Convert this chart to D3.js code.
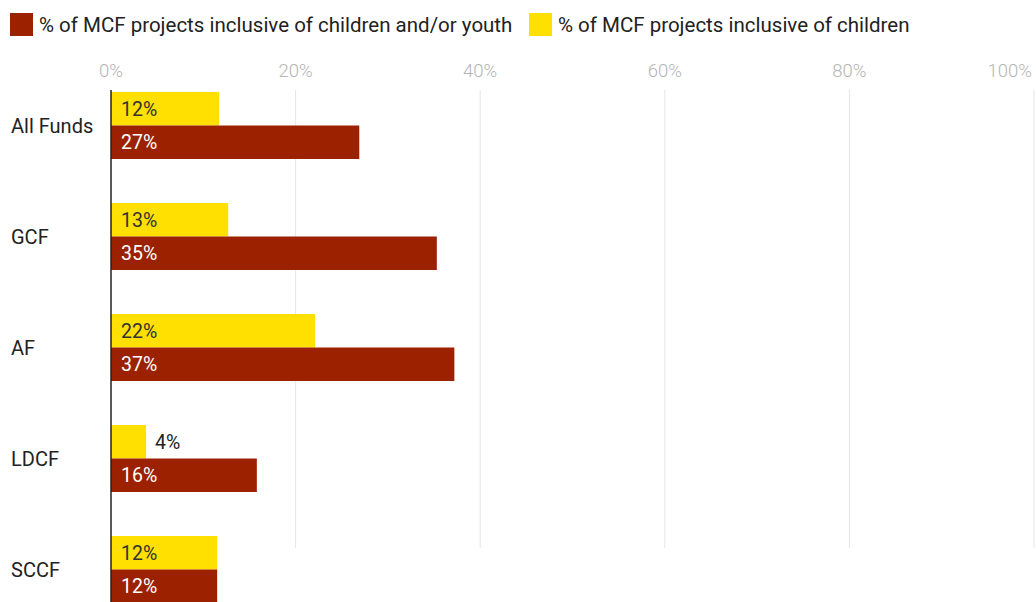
<!DOCTYPE html>
<html>
<head>
<meta charset="utf-8">
<script src="https://cdn.jsdelivr.net/npm/d3@7"></script>
<style>
  html, body { margin: 0; padding: 0; background: #fff; }
  svg { display: block; font-family: Roboto, "Noto Sans", sans-serif; }
</style>
</head>
<body>
<svg id="chart" width="1036" height="602"></svg>
<script>
const categories = ["All Funds", "GCF", "AF", "LDCF", "SCCF"];
const childrenValues = [11.7, 12.7, 22.1, 3.8, 11.5];
const childrenYouthValues = [26.9, 35.3, 37.2, 15.8, 11.5];
const childrenLabels = ["12%", "13%", "22%", "4%", "12%"];
const childrenYouthLabels = ["27%", "35%", "37%", "16%", "12%"];
const tickValues = [0, 20, 40, 60, 80, 100];
const tickLabels = ["0%", "20%", "40%", "60%", "80%", "100%"];
const seriesNames = ["% of MCF projects inclusive of children and/or youth", "% of MCF projects inclusive of children"];

const RED = "#9b2100", YELLOW = "#ffe000";

const svg = d3.select("#chart");
const x = d3.scaleLinear().domain([0, 100]).range([111, 1034]);
const y = d3.scaleBand().domain(categories).range([70, 625]).paddingInner(44 / 111).paddingOuter(22 / 111);
const sub = d3.scaleBand().domain(["children", "youth"]).range([0, y.bandwidth()]);

// gridlines
svg.append("g").selectAll("line").data(tickValues.slice(1)).join("line")
  .attr("x1", d => x(d)).attr("x2", d => x(d))
  .attr("y1", 90).attr("y2", 548)
  .attr("stroke", "#e6e6e6").attr("stroke-width", 1);

// tick labels
svg.append("g").selectAll("text").data(tickValues).join("text")
  .attr("x", (d, i) => i === tickValues.length - 1 ? 1032 : x(d))
  .attr("y", 71)
  .attr("dy", "0.35em")
  .attr("text-anchor", (d, i) => i === tickValues.length - 1 ? "end" : "middle")
  .attr("font-size", 18.5).attr("font-weight", 300).attr("fill", "#b5b5b5")
  .text((d, i) => tickLabels[i]);

const rows = categories.map((c, i) => ({
  cat: c,
  bars: [
    { key: "children", v: childrenValues[i], label: childrenLabels[i], color: YELLOW, text: "#333" },
    { key: "youth", v: childrenYouthValues[i], label: childrenYouthLabels[i], color: RED, text: "#fff" }
  ]
}));

const g = svg.append("g").selectAll("g").data(rows).join("g")
  .attr("transform", d => `translate(0,${y(d.cat)})`);

g.selectAll("rect").data(d => d.bars).join("rect")
  .attr("x", x(0)).attr("y", d => sub(d.key))
  .attr("width", d => x(d.v) - x(0)).attr("height", sub.bandwidth())
  .attr("fill", d => d.color);

g.selectAll("text.val").data(d => d.bars).join("text")
  .attr("class", "val")
  .attr("x", d => (x(d.v) - x(0) < 45) ? x(d.v) + 9 : x(0) + 10)
  .attr("y", d => sub(d.key) + sub.bandwidth() / 2)
  .attr("dy", "0.35em")
  .attr("font-size", 19.5)
  .attr("fill", d => (x(d.v) - x(0) < 45) ? "#222" : d.text)
  .text(d => d.label);

// category labels
svg.append("g").selectAll("text").data(categories).join("text")
  .attr("x", 11).attr("y", d => y(d) + y.bandwidth() / 2)
  .attr("dy", "0.35em").attr("font-size", 20).attr("fill", "#222")
  .text(d => d);

// axis line
svg.append("line").attr("x1", x(0)).attr("x2", x(0)).attr("y1", 90).attr("y2", 602)
  .attr("stroke", "#222").attr("stroke-width", 1.5);

// legend
const legend = [
  { name: seriesNames[0], color: RED, x: 10 },
  { name: seriesNames[1], color: YELLOW, x: 529 }
];
const lg = svg.append("g").selectAll("g").data(legend).join("g")
  .attr("transform", d => `translate(${d.x},13)`);
lg.append("rect").attr("width", 23).attr("height", 23).attr("fill", d => d.color);
lg.append("text").attr("x", 29).attr("y", 12).attr("dy", "0.35em")
  .attr("font-size", 20.5).attr("fill", "#222").text(d => d.name);
</script>
</body>
</html>
